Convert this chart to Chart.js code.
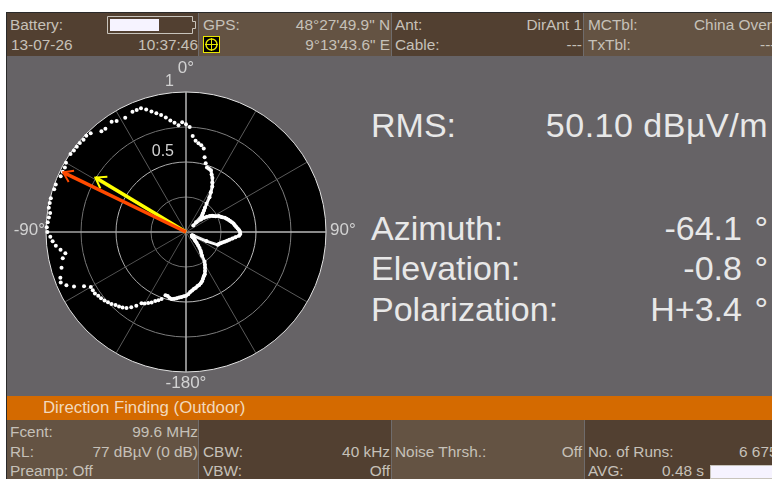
<!DOCTYPE html>
<html>
<head>
<meta charset="utf-8">
<script src="https://cdn.jsdelivr.net/npm/chart.js@4/dist/chart.umd.min.js"></script>
<style>
  html, body { margin: 0; padding: 0; background: #fff; }
  body { width: 772px; height: 479px; overflow: hidden; position: relative; font-family: "Liberation Sans", Arial, sans-serif; }
  #screen { position: absolute; left: 6px; top: 12px; width: 766px; height: 467px; background: #666366; border-left: 1px solid #2a2a2a; border-top: 1px solid #2a2a2a; box-sizing: border-box; }
  .cell { position: absolute; box-sizing: border-box; border-right: 1px solid #6f6c6c; }
  .dark { background: #524031; }
  .light { background: #645343; }
  .t { position: absolute; font-size: 15.4px; line-height: 18px; color: #c6c1b9; white-space: nowrap; }
  .big { position: absolute; font-size: 34px; line-height: 40px; color: #e8e8e8; white-space: nowrap; word-spacing: 3px; }
  #band { position: absolute; left: 7px; top: 396px; width: 765px; height: 24px; background: #d46a00; }
  canvas { position: absolute; left: 0; top: 56px; }
</style>
</head>
<body>
<div id="screen"></div>

<div class="cell dark" style="left:7px;top:13px;width:192px;height:43px"></div>
<div class="cell light" style="left:199px;top:13px;width:193px;height:43px"></div>
<div class="cell dark" style="left:392px;top:13px;width:192px;height:43px"></div>
<div class="cell light" style="left:584px;top:13px;width:188px;height:43px;border:0"></div>
<div id="band"></div>
<div class="cell light" style="left:7px;top:420px;width:192px;height:59px"></div>
<div class="cell dark" style="left:199px;top:420px;width:193px;height:59px"></div>
<div class="cell light" style="left:392px;top:420px;width:193px;height:59px"></div>
<div class="cell dark" style="left:585px;top:420px;width:187px;height:59px;border:0"></div>

<div class="t" style="left:10px;top:16px">Battery:</div>
<div class="t" style="left:11px;top:36px">13-07-26</div>
<div class="t" style="right:574px;top:36px">10:37:46</div>
<svg style="position:absolute;left:107px;top:15px" width="90" height="20">
  <path d="M0.5 1.5H85.5V6.5H88.5V13.5H85.5V18.5H0.5Z" fill="none" stroke="#c8c4bc"/>
  <rect x="3" y="4" width="49" height="12" fill="#f6f3ff"/>
</svg>
<svg style="position:absolute;left:203px;top:36px" width="17" height="17">
  <rect x="0.5" y="0.5" width="16" height="16" fill="#000" stroke="#e8e800"/>
  <circle cx="8.5" cy="8.5" r="5.5" fill="none" stroke="#e8e800" stroke-width="1.4"/>
  <path d="M8.5 2V15M2 8.5H15" stroke="#e8e800"/>
</svg>
<div class="t" style="left:203px;top:16px">GPS:</div>
<div class="t" style="right:382px;top:16px">48°27'49.9" N</div>
<div class="t" style="right:382px;top:36px">9°13'43.6" E</div>
<div class="t" style="left:395px;top:16px">Ant:</div>
<div class="t" style="right:190px;top:16px">DirAnt 1</div>
<div class="t" style="left:395px;top:36px">Cable:</div>
<div class="t" style="right:190px;top:36px">---</div>
<div class="t" style="left:588px;top:16px">MCTbl:</div>
<div class="t" style="left:694px;top:16px">China Over</div>
<div class="t" style="left:588px;top:36px">TxTbl:</div>
<div class="t" style="left:760px;top:36px">---</div>

<div class="big" style="left:371px;top:105px">RMS:</div>
<div class="big" style="right:4px;top:105px;word-spacing:0;letter-spacing:.5px">50.10 dBµV/m</div>
<div class="big" style="left:371px;top:208px">Azimuth:</div>
<div class="big" style="right:4px;top:208px">-64.1 °</div>
<div class="big" style="left:371px;top:248px">Elevation:</div>
<div class="big" style="right:4px;top:248px">-0.8 °</div>
<div class="big" style="left:371px;top:289px">Polarization:</div>
<div class="big" style="right:4px;top:289px">H+3.4 °</div>

<div class="t" style="left:43px;top:399px;font-size:16.8px;color:#f2d9bd">Direction Finding (Outdoor)</div>

<div class="t" style="left:10px;top:423px">Fcent:</div>
<div class="t" style="right:574px;top:423px">99.6 MHz</div>
<div class="t" style="left:10px;top:443px">RL:</div>
<div class="t" style="right:574px;top:443px">77 dBµV (0 dB)</div>
<div class="t" style="left:10px;top:462px">Preamp: Off</div>
<div class="t" style="left:203px;top:443px">CBW:</div>
<div class="t" style="right:382px;top:443px">40 kHz</div>
<div class="t" style="left:203px;top:462px">VBW:</div>
<div class="t" style="right:382px;top:462px">Off</div>
<div class="t" style="left:395px;top:443px">Noise Thrsh.:</div>
<div class="t" style="right:190px;top:443px">Off</div>
<div class="t" style="left:588px;top:443px">No. of Runs:</div>
<div class="t" style="left:739px;top:443px">6 675</div>
<div class="t" style="left:588px;top:462px">AVG:</div>
<div class="t" style="right:68px;top:462px">0.48 s</div>
<div style="position:absolute;left:710px;top:465px;width:62px;height:14px;box-sizing:border-box;border:1px solid #c8c4bc;border-right:0;background:#f6f3ff"></div>

<canvas id="polar" width="372" height="340"></canvas>

<script>
// azimuth of each sample, clockwise from north, degrees
const azimuths = [
    0, 2, 4, 6, 8, 10, 12, 14, 16, 18,
    20, 22, 24, 26, 28, 30, 32, 34, 36, 38,
    40, 42, 44, 46, 48, 50, 52, 54, 56, 58,
    60, 62, 64, 66, 68, 70, 72, 74, 76, 78,
    80, 82, 84, 86, 88, 90, 92, 94, 96, 98,
    100, 102, 104, 106, 108, 110, 112, 114, 116, 118,
    120, 122, 124, 126, 128, 130, 132, 134, 136, 138,
    140, 142, 144, 146, 148, 150, 152, 154, 156, 158,
    160, 162, 164, 166, 168, 170, 172, 174, 176, 178,
    180, 182, 184, 186, 188, 190, 192, 194, 196, 198,
    200, 202, 204, 206, 208, 210, 212, 214, 216, 218,
    220, 222, 224, 226, 228, 230, 232, 234, 236, 238,
    240, 242, 244, 246, 248, 250, 252, 254, 256, 258,
    260, 262, 264, 266, 268, 270, 272, 274, 276, 278,
    280, 282, 284, 286, 288, 290, 292, 294, 296, 298,
    300, 302, 304, 306, 308, 310, 312, 314, 316, 318,
    320, 322, 324, 326, 328, 330, 332, 334, 336, 338,
    340, 342, 344, 346, 348, 350, 352, 354, 356, 358
];

// normalised level, one per azimuth; null where the trace has a gap
const traceLevels = [
    .77, .75, .687, .655, .64, .63, .61, .55, .51, .485,
    .48, .475, .45, .43, .40, .375, .335, .30, .25, .22,
    .20, .18, .165, .10, .07, .14, .165, .185, .205, .22,
    .228, .24, .26, .27, .28, .295, .305, .315, .325, .335,
    .345, .352, .36, .37, .38, .386, .388, .38, .355, .335,
    .315, .30, .285, .27, .26, .25, .245, .16, .06, .05,
    .05, .05, .05, .055, .06, .075, .085, .095, .11, .13,
    .15, .17, .185, .205, .25, .27, .29, .31, .33, .34,
    .355, .37, .38, .39, .395, .405, .41, .42, .43, .445,
    .455, .46, .465, .47, .478, .485, .49, .485, .475, .475,
    .51, .525, .54, .56, .575, .59, .60, .635, .665, .69,
    .705, .715, .725, .74, .75, .76, .77, .775, .785, .785,
    .785, .825, .89, .935, .965, .955, null, .925, null, .90,
    .875, .905, .935, .955, .97, .99, .995, .99, .985, .98,
    .995, .995, .995, null, .99, .99, null, .98, .98, .98,
    .99, null, .995, .99, .99, .99, .985, .99, .98, null,
    .94, .935, null, .95, .935, null, .925, null, .94, .94,
    .94, .92, .895, .875, .855, .83, .805, .785, .765, .785
];

const angleTicks = [0, 90, 180, 270];
const angleTickLabels = ['0°', '90°', '-180°', '-90°'];
const ringTicks = [0.5, 1];
const ringTickLabels = ['0.5', '1'];

// the two bearing arrows: [azimuth, level]
const peakBearing = [-64.1, 0.975];
const meanBearing = [-59, 0.755];

function drawArrow(ctx, scale, bearing, color, width, head) {
    const rad = bearing[0] * Math.PI / 180;
    const dist = scale.getDistanceFromCenterForValue(bearing[1]);
    const tip = scale.getPointPosition(0, dist, rad);
    const a = Math.atan2(tip.y - scale.yCenter, tip.x - scale.xCenter);
    ctx.save();
    ctx.strokeStyle = color;
    ctx.lineWidth = width;
    ctx.beginPath();
    ctx.moveTo(scale.xCenter, scale.yCenter);
    ctx.lineTo(tip.x, tip.y);
    ctx.stroke();
    ctx.lineWidth = 2;
    ctx.beginPath();
    ctx.moveTo(tip.x - head * Math.cos(a + 0.6), tip.y - head * Math.sin(a + 0.6));
    ctx.lineTo(tip.x, tip.y);
    ctx.lineTo(tip.x - head * Math.cos(a - 0.6), tip.y - head * Math.sin(a - 0.6));
    ctx.stroke();
    ctx.restore();
}

const polarAnnotations = {
    id: 'polarAnnotations',
    afterDraw(chart) {
        const ctx = chart.ctx;
        const r = chart.scales.r;

        drawArrow(ctx, r, meanBearing, '#ffff00', 3.5, 12);
        drawArrow(ctx, r, peakBearing, '#ff4a00', 3.5, 11);

        ctx.save();
        ctx.fillStyle = '#d2d2d2';
        ctx.textBaseline = 'bottom';
        ctx.textAlign = 'right';
        ctx.font = '16px "Liberation Sans", Arial, sans-serif';
        ringTicks.forEach((v, i) => {
            const d = r.getDistanceFromCenterForValue(v);
            ctx.fillText(ringTickLabels[i], r.xCenter - 12, r.yCenter - d - 2);
        });

        ctx.font = '17px "Liberation Sans", Arial, sans-serif';
        angleTicks.forEach((deg, i) => {
            const idx = azimuths.indexOf(deg);
            const outer = r.getDistanceFromCenterForValue(1);
            const gap = deg === 0 ? 24 : deg === 180 ? 11 : deg === 90 ? 4 : 1;
            const p = r.getPointPosition(idx, outer + gap);
            ctx.textAlign = deg === 90 ? 'left' : deg === 270 ? 'right' : 'center';
            ctx.textBaseline = 'middle';
            ctx.fillText(angleTickLabels[i], p.x, p.y - (deg === 90 || deg === 270 ? 2 : 0));
        });
        ctx.restore();
    }
};

new Chart(document.getElementById('polar').getContext('2d'), {
    type: 'radar',
    data: {
        labels: azimuths,
        datasets: [{
            label: 'Trace',
            data: traceLevels,
            showLine: false,
            pointRadius: 2,
            pointBorderWidth: 0,
            pointBackgroundColor: '#ffffff'
        }, {
            label: 'Trace core',
            data: traceLevels.map(v => v < 0.5 ? v : null),
            borderColor: '#ffffff',
            borderWidth: 3,
            borderJoinStyle: 'round',
            pointRadius: 0,
            fill: false
        }]
    },
    options: {
        responsive: false,
        animation: false,
        layout: { padding: { left: 46, right: 46, top: 36, bottom: 24 } },
        plugins: { legend: { display: false }, tooltip: { enabled: false } },
        scales: {
            r: {
                min: 0,
                max: 1,
                backgroundColor: '#000000',
                ticks: { stepSize: 0.25, display: false },
                pointLabels: { display: false },
                grid: {
                    circular: true,
                    lineWidth: 1,
                    color: ctx => ctx.tick.value === 1 ? '#e0e0e0' : ctx.tick.value === 0.5 ? '#bdbdbd' : '#7c7c7c'
                },
                angleLines: {
                    color: ctx => {
                        const deg = azimuths[ctx.index];
                        if (deg % 90 === 0) return '#b8b8b8';
                        return deg % 30 === 0 ? '#5a5a5a' : null;
                    },
                    lineWidth: ctx => azimuths[ctx.index] % 90 === 0 ? 1.5 : azimuths[ctx.index] % 30 === 0 ? 1 : 0
                }
            }
        }
    },
    plugins: [polarAnnotations]
});
</script>
</body>
</html>
